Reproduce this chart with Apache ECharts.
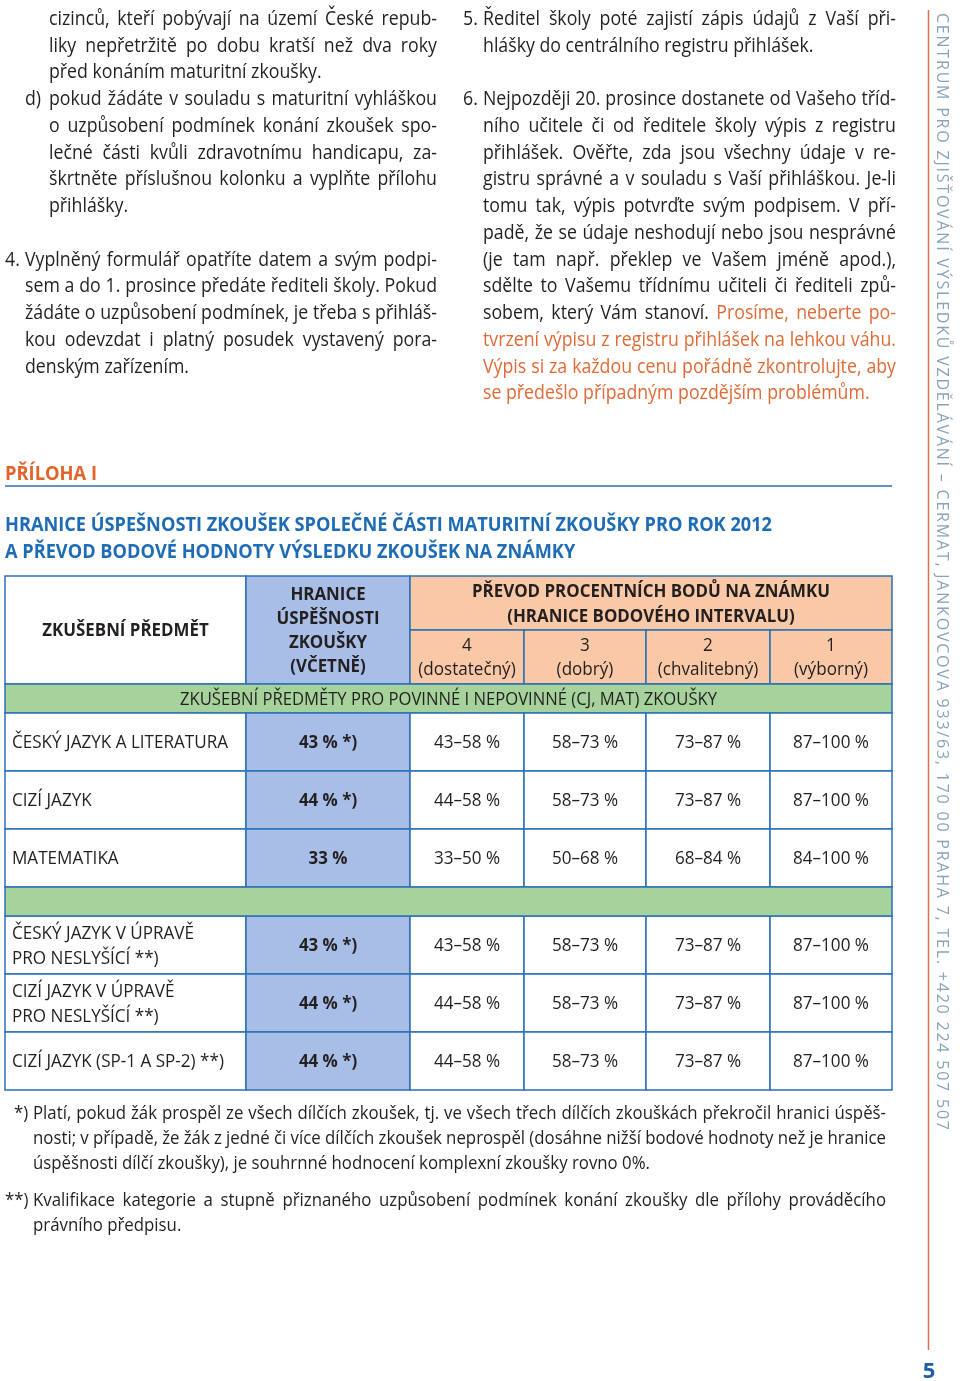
<!DOCTYPE html>
<html><head><meta charset="utf-8">
<script src="https://cdn.jsdelivr.net/npm/echarts@6/dist/echarts.min.js"></script>
<style>html,body{margin:0;padding:0;background:#fff}#c{width:960px;height:1381px}</style>
</head><body><div id="c"></div>
<script>
// ---------------- DATA ----------------
const paraC = ['cizinců, kteří pobývají na území České repub-','liky nepřetržitě po dobu kratší než dva roky','před konáním maturitní zkoušky.'];
const paraD = ['pokud žádáte v souladu s maturitní vyhláškou','o uzpůsobení podmínek konání zkoušek spo-','lečné části kvůli zdravotnímu handicapu, za-','škrtněte příslušnou kolonku a vyplňte přílohu','přihlášky.'];
const para4 = ['Vyplněný formulář opatříte datem a svým podpi-','sem a do 1. prosince předáte řediteli školy. Pokud','žádáte o uzpůsobení podmínek, je třeba s přihláš-','kou odevzdat i platný posudek vystavený pora-','denským zařízením.'];
const para5 = ['Ředitel školy poté zajistí zápis údajů z Vaší při-','hlášky do centrálního registru přihlášek.'];
const para6 = ['Nejpozději 20. prosince dostanete od Vašeho tříd-','ního učitele či od ředitele školy výpis z registru','přihlášek. Ověřte, zda jsou všechny údaje v re-','gistru správné a v souladu s Vaší přihláškou. Je-li','tomu tak, výpis potvrďte svým podpisem. V pří-','padě, že se údaje neshodují nebo jsou nesprávné','(je tam např. překlep ve Vašem jméně apod.),','sdělte to Vašemu třídnímu učiteli či řediteli způ-','sobem, který Vám stanoví. Prosíme, neberte po-','tvrzení výpisu z registru přihlášek na lehkou váhu.','Výpis si za každou cenu pořádně zkontrolujte, aby','se předešlo případným pozdějším problémům.'];
const para6HighlightFrom = {line: 8, word: 4};
const annexLabel = 'PŘÍLOHA I';
const titleLines = ['HRANICE ÚSPEŠNOSTI ZKOUŠEK SPOLEČNÉ ČÁSTI MATURITNÍ ZKOUŠKY PRO ROK 2012','A PŘEVOD BODOVÉ HODNOTY VÝSLEDKU ZKOUŠEK NA ZNÁMKY'];
const headerSubject = 'ZKUŠEBNÍ PŘEDMĚT';
const headerThreshold = ['HRANICE','ÚSPĚŠNOSTI','ZKOUŠKY','(VČETNĚ)'];
const headerConversion = ['PŘEVOD PROCENTNÍCH BODŮ NA ZNÁMKU','(HRANICE BODOVÉHO INTERVALU)'];
const gradeNumbers = ['4','3','2','1'];
const gradeNames = ['(dostatečný)','(dobrý)','(chvalitebný)','(výborný)'];
const sectionTitle = 'ZKUŠEBNÍ PŘEDMĚTY PRO POVINNÉ I NEPOVINNÉ (CJ, MAT) ZKOUŠKY';
const subjects = ['ČESKÝ JAZYK A LITERATURA','CIZÍ JAZYK','MATEMATIKA','ČESKÝ JAZYK V ÚPRAVĚ\nPRO NESLYŠÍCÍ **)','CIZÍ JAZYK V ÚPRAVĚ\nPRO NESLYŠÍCÍ **)','CIZÍ JAZYK (SP-1 A SP-2) **)'];
const subjectGroup = [0,0,0,1,1,1];
const passThreshold = [43,44,33,43,44,44];
const passNote = [true,true,false,true,true,true];
const grade3From = [58,58,50,58,58,58];
const grade2From = [73,73,68,73,73,73];
const grade1From = [87,87,84,87,87,87];
const scaleTop = 100;
const foot1 = ['Platí, pokud žák prospěl ze všech dílčích zkoušek, tj. ve všech třech dílčích zkouškách překročil hranici úspěš-','nosti; v případě, že žák z jedné či více dílčích zkoušek neprospěl (dosáhne nižší bodové hodnoty než je hranice','úspěšnosti dílčí zkoušky), je souhrnné hodnocení komplexní zkoušky rovno 0%.'];
const foot2 = ['Kvalifikace kategorie a stupně přiznaného uzpůsobení podmínek konání zkoušky dle přílohy prováděcího','právního předpisu.'];
const sidebarText = 'CENTRUM PRO ZJIŠŤOVÁNÍ VÝSLEDKŮ VZDĚLÁVÁNÍ – CERMAT, JANKOVCOVA 933/63, 170 00 PRAHA 7, TEL. +420 224 507 507';
const pageNumber = '5';

// ---------------- STYLE / LAYOUT ----------------
const FONT = '"Open Sans", "Noto Sans", sans-serif';
const C = {text:'#231f20', orange:'#e06a35', annex:'#e2632b', title:'#1d6cb5', border:'#2a70b8',
  blue:'#a9bee6', peach:'#f9c8a6', green:'#a6d39b', side:'#8aa3b8', rule:'#d9714d', page:'#1f5fa6'};
const mctx = document.createElement('canvas').getContext('2d');
function tw(s, size, weight){ mctx.font = (weight||'normal')+' '+size+'px '+FONT; return mctx.measureText(s).width; }
const fontStr = f => (f.weight||'normal')+' '+f.size+'px '+FONT;

const BODY = {size:20, weight:'normal'};
BODY.sx = (272+331)/(tw(paraC[2],20)+tw(para5[1],20));
const FOOT = {size:19, weight:'normal'};
FOOT.sx = 617/tw(foot1[2],19);
const LINE = 26.75, B0 = 27;

function txt(t, x, baseline, f, color, align){
  return {type:'text', x:x, y:baseline-0.388*f.size, scaleX:f.sx||1, silent:true, z:10,
    style:{text:t, fill:color, font:fontStr(f), textAlign:align||'left', textVerticalAlign:'middle'}};
}
function lineEls(words, x0, x1, baseline, f, justify, out){
  const ws = words.map(w=>tw(w.t,f.size,f.weight)*f.sx);
  const tot = ws.reduce((a,b)=>a+b,0);
  let gap = tw(' ',f.size,f.weight)*f.sx;
  if (justify && words.length>1) gap = (x1-x0-tot)/(words.length-1);
  let cx = x0;
  words.forEach((w,i)=>{ out.push(txt(w.t,cx,baseline,f,w.c)); cx += ws[i]+gap; });
}
const els = [];
function para(lines, marker, mx, x0, x1, b0, step, f, colorFn){
  if (marker) els.push(txt(marker, mx, b0, {size:f.size, weight:f.weight, sx:f.sx}, C.text));
  lines.forEach((ln,li)=>{
    const words = ln.split(' ').map((t,wi)=>({t:t, c: colorFn ? colorFn(li,wi) : C.text}));
    lineEls(words, x0, x1, b0+li*step, f, li<lines.length-1, els);
  });
}
para(paraC, null, 0, 49, 437, B0, LINE, BODY);
para(paraD, 'd)', 25, 49, 437, B0+3*LINE, LINE, BODY);
para(para4, '4.', 5, 25, 437, B0+9*LINE, LINE, BODY);
para(para5, '5.', 463, 483, 896, B0, LINE, BODY);
para(para6, '6.', 463, 483, 896, B0+3*LINE, LINE, BODY, (li,wi)=>
  (li>para6HighlightFrom.line || (li===para6HighlightFrom.line && wi>=para6HighlightFrom.word)) ? C.orange : C.text);

// annex heading + rule
const ANNEX = {size:20, weight:'bold'}; ANNEX.sx = 92/tw(annexLabel,20,'bold');
els.push(txt(annexLabel, 5, 482, ANNEX, C.annex));
els.push({type:'line', silent:true, shape:{x1:5,y1:486,x2:892,y2:486}, style:{stroke:C.border, lineWidth:1.5}});
// title
const TITLE = {size:19, weight:'bold'}; TITLE.sx = 767/tw(titleLines[0],19,'bold');
els.push(txt(titleLines[0], 5, 533, TITLE, C.title));
els.push(txt(titleLines[1], 5, 560, TITLE, C.title));
// footnotes
para(foot1, '*)', 14, 33, 886, 1121, 24.8, FOOT);
para(foot2, '**)', 5, 33, 886, 1208, 24.8, FOOT);
// sidebar
els.push({type:'line', silent:true, shape:{x1:928.5,y1:10,x2:928.5,y2:1350}, style:{stroke:C.rule, lineWidth:1.5}});
(function(){
  const chars = Array.from(sidebarText), sz = 16;
  const cw = chars.map(ch=>tw(ch,sz));
  const nat = cw.reduce((a,b)=>a+b,0);
  const sp = (1130-13-nat)/(chars.length-1);
  let y = 13;
  chars.forEach((ch,i)=>{
    els.push({type:'text', x:942, y:y, rotation:-Math.PI/2, silent:true,
      style:{text:ch, fill:C.side, font:fontStr({size:sz}), textAlign:'left', textVerticalAlign:'middle'}});
    y += cw[i]+sp;
  });
})();
els.push(txt(pageNumber, 929, 1380, {size:22, weight:'bold', sx:1}, C.page, 'center'));

// ---------------- TABLE (custom series) ----------------
const colEdges = [0,241,405,519,641,765,887];
const rowEdges = [0,54,108,137,195,253,311,340,398,456,514];
const TB = {size:18, weight:'normal'}; TB.sx = 216/tw(subjects[0],18);
const TBB = {size:18, weight:'bold'}; TBB.sx = 358/tw(headerConversion[0],18,'bold');
const TBG = {size:18, weight:'normal'}; TBG.sx = 537/tw(sectionTitle,18);
const cells = [];
function cell(c0,c1,r0,r1,fill,text,f,align,lh){ cells.push({value:[c0,c1,r0,r1], fill, text, f, align:align||'center', lh}); }
cell(0,1,0,2,'#fff',headerSubject,TBB);
cell(1,2,0,2,C.blue,headerThreshold.join('\n'),TBB,'center',24);
cell(2,6,0,1,C.peach,headerConversion.join('\n'),TBB,'center',25);
gradeNumbers.forEach((g,j)=>cell(2+j,3+j,1,2,C.peach,g+'\n'+gradeNames[j],TB,'center',24));
cell(0,6,2,3,C.green,sectionTitle,TBG);
const pct = (a,b)=>a+'–'+b+' %';
subjects.forEach((s,i)=>{
  const r = 3 + i + subjectGroup[i];
  cell(0,1,r,r+1,'#fff',s,TB,'left',25);
  cell(1,2,r,r+1,C.blue,passThreshold[i]+' %'+(passNote[i]?' *)':''),TBB);
  cell(2,3,r,r+1,'#fff',pct(passThreshold[i],grade3From[i]),TB);
  cell(3,4,r,r+1,'#fff',pct(grade3From[i],grade2From[i]),TB);
  cell(4,5,r,r+1,'#fff',pct(grade2From[i],grade1From[i]),TB);
  cell(5,6,r,r+1,'#fff',pct(grade1From[i],scaleTop),TB);
});
cell(0,6,6,7,C.green,'',TB);

function renderItem(params, api){
  const c = cells[params.dataIndex];
  const p0 = api.coord([colEdges[api.value(0)], rowEdges[api.value(2)]]);
  const p1 = api.coord([colEdges[api.value(1)], rowEdges[api.value(3)]]);
  const x = Math.min(p0[0],p1[0]), y = Math.min(p0[1],p1[1]);
  const w = Math.abs(p1[0]-p0[0]), h = Math.abs(p1[1]-p0[1]);
  const ch = [{type:'rect', shape:{x,y,width:w,height:h}, style:{fill:c.fill, stroke:C.border, lineWidth:1.5}}];
  if (c.text){
    const tx = c.align==='left' ? x+7 : x+w/2;
    const style = {text:c.text, fill:C.text, font:fontStr(c.f), textAlign:c.align, textVerticalAlign:'middle'};
    if (c.lh) style.lineHeight = c.lh;
    ch.push({type:'text', x:tx, y:y+h/2+1, scaleX:c.f.sx, style});
  }
  return {type:'group', children:ch};
}

const chart = echarts.init(document.getElementById('c'), null, {renderer:'canvas'});
chart.setOption({
  animation:false,
  grid:{left:5, top:576, width:887, height:514, containLabel:false},
  xAxis:{type:'value', min:0, max:887, show:false},
  yAxis:{type:'value', min:0, max:514, inverse:true, show:false},
  series:[{type:'custom', renderItem, silent:true, clip:false, data:cells.map(c=>c.value)}],
  graphic:{elements:els}
});
</script>
</body></html>
